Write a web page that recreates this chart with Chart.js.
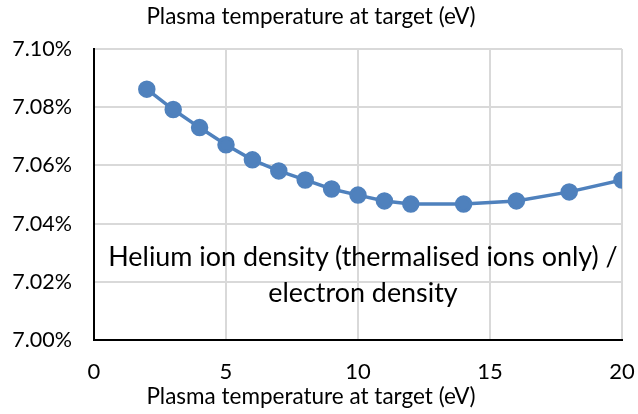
<!DOCTYPE html>
<html>
<head>
<meta charset="utf-8">
<script src="https://cdn.jsdelivr.net/npm/chart.js@4.4.1/dist/chart.umd.min.js"></script>
<style>
  html, body { margin: 0; padding: 0; background: #fff; }
  #wrap { position: relative; width: 638px; height: 414px; }
  #note {
    position: absolute; left: 63px; top: 238px; width: 600px; text-align: center;
    font-family: Lato, "Open Sans", sans-serif; font-size: 26.9px; line-height: 36px;
    color: #000; white-space: nowrap; pointer-events: none;
  }
</style>
</head>
<body>
<div id="wrap">
  <canvas id="chart" width="638" height="414"></canvas>
  <div id="note">Helium ion density (thermalised ions only) /<br>electron density</div>
</div>
<script>
// plasma temperature at target (eV)
const temps = [2, 3, 4, 5, 6, 7, 8, 9, 10, 11, 12, 14, 16, 18, 20];
// He ion density / electron density, in percent
const ratio = [7.0862, 7.0792, 7.0730, 7.0671, 7.0619, 7.0581, 7.0550, 7.0519,
               7.0498, 7.0478, 7.0467, 7.0467, 7.0478, 7.0509, 7.0550];
const xTicks = [0, 5, 10, 15, 20];
const yTicks = [7.00, 7.02, 7.04, 7.06, 7.08, 7.10];

const FONT = 'Lato, "Open Sans", sans-serif';
const BLUE = '#4f81bd';
const AXIS_TITLE = 'Plasma temperature at target (eV)';

new Chart(document.getElementById('chart'), {
  type: 'scatter',
  data: {
    datasets: [{
      data: temps.map((t, i) => ({ x: t, y: ratio[i] })),
      showLine: true,
      borderColor: BLUE,
      backgroundColor: BLUE,
      borderWidth: 3.5,
      pointRadius: 7,
      pointHoverRadius: 7,
      tension: 0
    }]
  },
  options: {
    responsive: false,
    animation: false,
    layout: { padding: { left: 0, right: 16, top: 0, bottom: 0 } },
    plugins: {
      legend: { display: false },
      tooltip: { enabled: false },
      // the same caption sits above and below the plot, centred on the page
      title: {
        display: true,
        text: AXIS_TITLE,
        color: '#000',
        font: { family: FONT, size: 22.5, weight: 'normal', lineHeight: 1.2 },
        padding: { top: 3, bottom: 19 }
      },
      subtitle: {
        display: true,
        position: 'bottom',
        text: AXIS_TITLE,
        color: '#000',
        font: { family: FONT, size: 22.5, weight: 'normal', lineHeight: 1.2 },
        padding: { top: 0, bottom: 4 }
      }
    },
    scales: {
      x: {
        type: 'linear', min: 0, max: 20,
        afterBuildTicks: ax => { ax.ticks = xTicks.map(v => ({ value: v })); },
        afterFit: ax => { ax.height = 43; ax.paddingRight = 0; },
        ticks: { color: '#000', font: { family: FONT, size: 22 }, padding: 19 },
        grid: { color: '#d9d9d9', lineWidth: 2, drawTicks: false },
        border: { color: '#000', width: 2 }
      },
      y: {
        type: 'linear', min: 7.00, max: 7.10,
        afterBuildTicks: ax => { ax.ticks = yTicks.map(v => ({ value: v })); },
        afterFit: ax => { ax.width = 94; },
        ticks: {
          color: '#000', font: { family: FONT, size: 21.5 }, padding: 22,
          callback: v => v.toFixed(2) + '%'
        },
        grid: { color: '#d9d9d9', lineWidth: 2, drawTicks: false },
        border: { color: '#000', width: 2 }
      }
    }
  }
});
</script>
</body>
</html>
